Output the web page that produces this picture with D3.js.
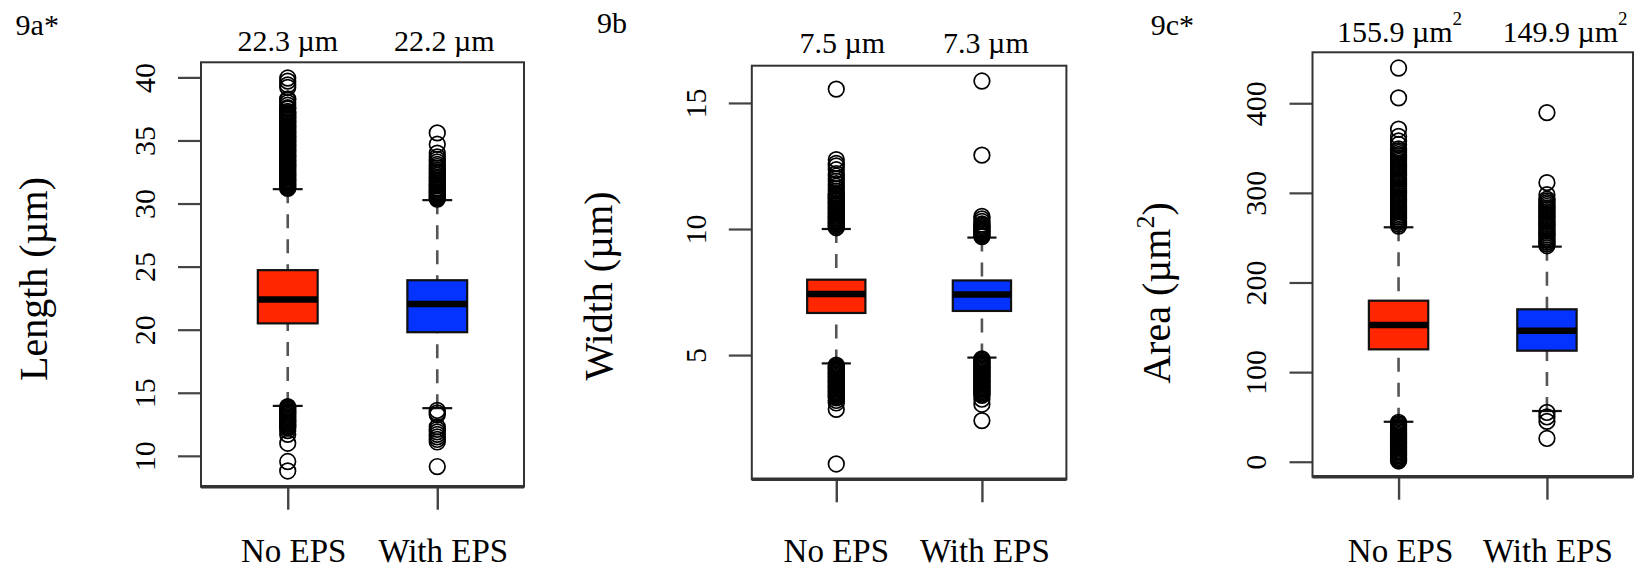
<!DOCTYPE html>
<html>
<head>
<meta charset="utf-8">
<script src="https://cdn.jsdelivr.net/npm/d3@7"></script>
<style>
  html, body { margin: 0; padding: 0; background: #fff; }
  svg { display: block; }
  svg text { font-family: "Liberation Serif", "Times New Roman", serif !important; fill: #000; }
</style>
</head>
<body>
<svg id="chart" width="1636" height="569" font-family="Liberation Serif, serif"></svg>
<script>
// Groups compared in every panel
const categories = ["No EPS", "With EPS"];
const groupColors = ["#ff2600", "#0433ff"];

// Box statistics per group: [lower whisker, Q1, median, Q3, upper whisker]
const lengthStats = [[13.96, 20.5, 22.4, 24.72, 31.14], [13.78, 19.8, 22.03, 23.92, 30.27]];
const widthStats  = [[4.67, 6.67, 7.42, 7.99, 10.0], [4.9, 6.75, 7.4, 7.96, 9.66]];
const areaStats   = [[44.6, 125.4, 152.6, 179.7, 261.6], [56.6, 123.9, 146.2, 170.1, 240.0]];

// Group means printed above each box
const lengthMeans = [22.3, 22.2];
const widthMeans  = [7.5, 7.3];
const areaMeans   = [155.9, 149.9];

// Axis tick values
const lengthTicks = [10, 15, 20, 25, 30, 35, 40];
const widthTicks  = [5, 10, 15];
const areaTicks   = [0, 100, 200, 300, 400];

// Outlying observations per group
const lengthOutliers = [
  [31.2,31.3,31.4,31.5,31.6,31.7,31.8,31.9,32.0,32.1,32.2,32.3,32.4,32.5,32.6,32.7,32.8,32.9,33.0,33.1,
   33.2,33.3,33.4,33.5,33.6,33.7,33.8,33.9,34.0,34.1,34.2,34.3,34.4,34.5,34.6,34.7,34.8,34.9,35.0,35.1,
   35.2,35.3,35.4,35.5,35.6,35.7,35.8,35.9,36.0,36.1,36.2,36.3,36.4,36.5,36.6,36.7,36.8,36.9,37.0,37.1,
   37.2,37.3,37.5,37.6,37.8,38.0,38.2,38.3,39.2,39.4,39.7,39.95,
   13.9,13.8,13.7,13.6,13.5,13.4,13.3,13.2,13.1,13.0,12.9,12.8,12.7,12.6,12.5,12.4,12.3,12.2,12.0,11.7,
   11.0,9.55,8.8],
  [30.35,30.45,30.55,30.65,30.75,30.85,30.95,31.05,31.15,31.25,31.4,31.5,31.6,31.75,31.85,32.0,32.1,
   32.25,32.4,32.5,32.65,32.8,32.95,33.1,33.3,33.5,33.7,34.0,34.7,35.6,
   13.6,13.4,13.25,12.3,12.1,11.9,11.7,11.5,11.3,11.1,9.15]
];
const widthOutliers = [
  [10.05,10.1,10.15,10.2,10.25,10.3,10.35,10.4,10.45,10.5,10.55,10.6,10.65,10.7,10.75,10.8,10.85,10.9,
   10.95,11.0,11.05,11.1,11.15,11.2,11.25,11.3,11.35,11.4,11.5,11.6,11.7,11.8,11.9,12.0,12.1,12.2,12.35,
   12.5,12.6,12.75,15.55,
   4.6,4.55,4.5,4.45,4.4,4.35,4.3,4.25,4.2,4.15,4.1,4.05,4.0,3.95,3.9,3.85,3.8,3.75,3.7,3.65,3.6,3.55,
   3.5,3.45,3.4,3.35,3.3,3.2,3.1,2.85,0.68],
  [9.7,9.75,9.8,9.85,9.9,9.95,10.0,10.05,10.1,10.15,10.2,10.3,10.4,10.5,12.93,15.87,
   4.85,4.8,4.75,4.7,4.65,4.6,4.55,4.5,4.45,4.4,4.35,4.3,4.25,4.2,4.15,4.1,4.05,4.0,3.95,3.9,3.85,3.8,
   3.75,3.7,3.65,3.6,3.55,3.5,3.45,3.4,3.25,3.05,2.4]
];
const areaOutliers = [
  [263,265,267,269,271,273,275,277,279,281,283,285,287,289,291,293,295,297,299,301,303,305,307,309,311,
   313,315,317,319,321,323,325,327,329,331,333,335,337,339,341,343,345,347,349,354,358,363,371,406,439.3,
   44,42.5,41,39.5,38,36.5,35,33.5,32,30.5,29,27.5,26,24.5,23,21.5,20,18.5,17,15.5,14,12.5,11,9.5,8,6.5,
   5,3.5,2,0.85],
  [241,243,245,247,249,251,253,255,257,259,261,263,265,267,269,271,273,275,277,279,281,283,285,287,289,
   291,293,298,311.4,389.5,
   55,50,45,26]
];

// Panel definitions: data plus where each panel sits on the page
const panels = [
  { tag: "9a*", title: ["Length (\u00b5m", null, ")"], unit: ["\u00b5m", null],
    stats: lengthStats, outliers: lengthOutliers, means: lengthMeans, ticks: lengthTicks,
    box: { left: 201, right: 524, top: 62.3, bottom: 486.7 },
    tagPos: [15.6, 35], titleX: 47, titleY: 279, tickLabelGap: 46, meanY: 50.7,
    meanDx: [0, 7], catDx: [6, 6] },
  { tag: "9b", title: ["Width (\u00b5m", null, ")"], unit: ["\u00b5m", null],
    stats: widthStats, outliers: widthOutliers, means: widthMeans, ticks: widthTicks,
    box: { left: 751.8, right: 1066.4, top: 65.7, bottom: 479.3 },
    tagPos: [597, 33.3], titleX: 611.7, titleY: 286, tickLabelGap: 46, meanY: 53.3,
    meanDx: [6, 4], catDx: [0, 3] },
  { tag: "9c*", title: ["Area (\u00b5m", "2", ")"], unit: ["\u00b5m", "2"],
    stats: areaStats, outliers: areaOutliers, means: areaMeans, ticks: areaTicks,
    box: { left: 1312.5, right: 1633, top: 52.3, bottom: 476.7 },
    tagPos: [1150.8, 35], titleX: 1170, titleY: 293, tickLabelGap: 47, meanY: 41.7,
    meanDx: [1, 18], catDx: [2, 1] }
];

const serif = '"Liberation Serif", "Times New Roman", serif';
const svg = d3.select("#chart");

panels.forEach(p => {
  const g = svg.append("g").attr("font-family", serif);
  const b = p.box;

  // Vertical range spans all observations, padded 4% on each side
  const all = p.stats.flat().concat(p.outliers.flat());
  const [lo, hi] = d3.extent(all);
  const pad = (hi - lo) * 0.04;
  const y = d3.scaleLinear().domain([lo - pad, hi + pad]).range([b.bottom, b.top]);
  // Group positions 1 and 2 on a 0.5..2.5 range, padded 4%
  const x = d3.scaleLinear().domain([0.42, 2.58]).range([b.left, b.right]);
  const halfBox = 0.2, halfCap = 0.1;

  // Y axis: outward ticks with labels parallel to the axis
  const yAxis = g.append("g")
    .attr("transform", `translate(${b.left},0)`)
    .call(d3.axisLeft(y).tickValues(p.ticks).tickSize(23).tickFormat(d3.format("d")))
    .attr("font-family", serif).attr("font-size", 30);
  yAxis.select(".domain").remove();
  yAxis.selectAll(".tick line").attr("stroke", "#444").attr("stroke-width", 2.2);
  yAxis.selectAll(".tick text")
    .attr("transform", "rotate(-90)")
    .attr("x", 0).attr("y", -p.tickLabelGap).attr("dy", 0)
    .attr("text-anchor", "middle")
    .attr("font-family", serif).style("font-size", "30px").attr("fill", "#000");

  // X axis: one tick under each group
  const xAxis = g.append("g")
    .attr("transform", `translate(0,${b.bottom})`)
    .call(d3.axisBottom(x).tickValues([1, 2]).tickSize(23).tickFormat(""));
  xAxis.select(".domain").remove();
  xAxis.selectAll(".tick line").attr("stroke", "#444").attr("stroke-width", 2.4);

  // Category labels below the axis
  g.selectAll(".cat").data(categories).join("text")
    .attr("x", (d, i) => x(i + 1) + p.catDx[i]).attr("y", 562)
    .attr("text-anchor", "middle").attr("font-family", serif).style("font-size", "33px")
    .text(d => d);

  // Whiskers (dashed) from cap to box, then solid caps
  p.stats.forEach((s, i) => {
    const cx = x(i + 1);
    [[s[0], s[1]], [s[4], s[3]]].forEach(([from, to]) => {
      g.append("line")
        .attr("x1", cx).attr("x2", cx).attr("y1", y(from)).attr("y2", y(to))
        .attr("stroke", "#555").attr("stroke-width", 2.6).attr("stroke-dasharray", "14,11");
      g.append("line")
        .attr("x1", x(i + 1 - halfCap)).attr("x2", x(i + 1 + halfCap))
        .attr("y1", y(from)).attr("y2", y(from))
        .attr("stroke", "#111").attr("stroke-width", 2.2);
    });
  });

  // Outlier circles
  p.outliers.forEach((vals, i) => {
    g.selectAll(null).data(vals).join("circle")
      .attr("cx", x(i + 1)).attr("cy", d => y(d)).attr("r", 7.8)
      .attr("fill", "none").attr("stroke", "#000").attr("stroke-width", 1.7);
  });

  // Boxes and medians
  p.stats.forEach((s, i) => {
    g.append("rect")
      .attr("x", x(i + 1 - halfBox)).attr("width", x(i + 1 + halfBox) - x(i + 1 - halfBox))
      .attr("y", y(s[3])).attr("height", y(s[1]) - y(s[3]))
      .attr("fill", groupColors[i]).attr("stroke", "#111").attr("stroke-width", 2.2);
    g.append("line")
      .attr("x1", x(i + 1 - halfBox)).attr("x2", x(i + 1 + halfBox))
      .attr("y1", y(s[2])).attr("y2", y(s[2]))
      .attr("stroke", "#000").attr("stroke-width", 6.5);
  });

  // Plot frame, heavier along the bottom
  g.append("rect")
    .attr("x", b.left).attr("y", b.top)
    .attr("width", b.right - b.left).attr("height", b.bottom - b.top)
    .attr("fill", "none").attr("stroke", "#333").attr("stroke-width", 2);
  g.append("line")
    .attr("x1", b.left).attr("x2", b.right).attr("y1", b.bottom).attr("y2", b.bottom)
    .attr("stroke", "#333").attr("stroke-width", 3.5);

  // Means written above each box
  p.means.forEach((m, i) => {
    const t = g.append("text")
      .attr("x", x(i + 1) + p.meanDx[i]).attr("y", p.meanY)
      .attr("text-anchor", "middle").attr("font-family", serif).style("font-size", "30px");
    t.append("tspan").text(`${m.toFixed(1)} ${p.unit[0]}`);
    if (p.unit[1]) t.append("tspan").attr("dy", -17).style("font-size", "19px").text(p.unit[1]);
  });

  // Y axis title
  const tt = g.append("text")
    .attr("transform", `translate(${p.titleX},${p.titleY}) rotate(-90)`)
    .attr("text-anchor", "middle").attr("font-family", serif).style("font-size", "40px");
  tt.append("tspan").text(p.title[0]);
  if (p.title[1]) {
    tt.append("tspan").attr("dy", -16).style("font-size", "26px").text(p.title[1]);
    tt.append("tspan").attr("dy", 16).text(p.title[2]);
  } else {
    tt.append("tspan").text(p.title[2]);
  }

  // Panel tag
  g.append("text").attr("x", p.tagPos[0]).attr("y", p.tagPos[1])
    .attr("font-family", serif).style("font-size", "30px").text(p.tag);
});
</script>
</body>
</html>
